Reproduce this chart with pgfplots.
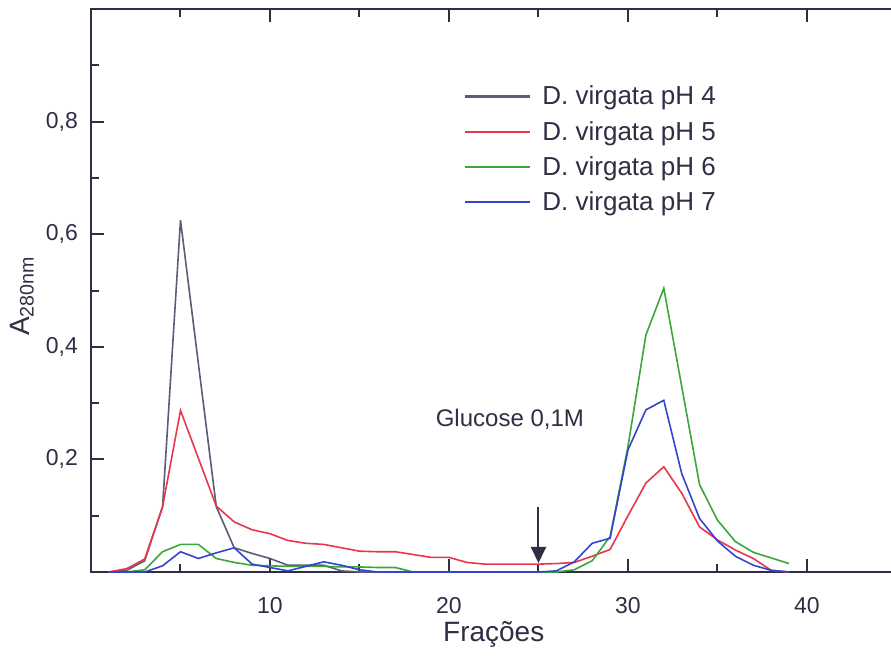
\documentclass[border=0pt]{standalone}
\usepackage{pgfplots}
\pgfplotsset{compat=1.18}
\usepackage{fontspec}
\setmainfont{Liberation Sans}
\usetikzlibrary{arrows.meta}
\definecolor{axc}{HTML}{2E2E44}
\definecolor{c4}{HTML}{5C5C78}
\definecolor{c5}{HTML}{E8364E}
\definecolor{c6}{HTML}{3BA73B}
\definecolor{c7}{HTML}{3444CC}
\begin{document}
\begin{tikzpicture}
\begin{axis}[name=ax, scale only axis, width=402.75pt, height=281.5pt,
  xmin=0, xmax=45, ymin=0, ymax=1,
  axis line style={axc, line width=1pt},
  xtick={10,20,30,40}, minor xtick={5,15,25,35,45},
  ytick={0.2,0.4,0.6,0.8}, minor ytick={0.1,0.3,0.5,0.7,0.9},
  xtick pos=both, ytick pos=left,
  tick style={axc, line width=1pt}, major tick length=6.5pt, minor tick length=4pt,
  tick align=inside,
  /pgf/number format/assume math mode=true,
  /pgf/number format/fixed,
  /pgf/number format/precision=1,
  /pgf/number format/use comma,
  ticklabel style={font=\fontsize{11.5}{13}\selectfont, text=axc},
  xticklabel style={yshift=-9pt},
  yticklabel style={xshift=-3pt},
  xlabel={Frações},
  xlabel style={at={(axis description cs:0.5,0)}, anchor=center, yshift=-31pt, font=\fontsize{14}{16}\selectfont, text=axc},
  ylabel={A\textsubscript{280nm}},
  ylabel style={at={(axis description cs:-0.0857,0.49)}, anchor=center, font=\fontsize{14}{16}\selectfont, text=axc},
  legend style={at={(axis description cs:0.4545,0.878)}, anchor=north west, draw=none, fill=none,
    font=\fontsize{13}{15}\selectfont, text=axc, row sep=2.7pt},
  legend cell align=left,
  legend image code/.code={\draw[#1, line width=1.15pt] (0pt,0.2pt) -- (32.5pt,0.2pt); \path (36.5pt,0pt);},
  every axis plot/.append style={line width=0.8pt},
]
\addplot[c4] coordinates {(1,0) (2,0.003) (3,0.02) (4,0.116) (5,0.625) (6,0.37) (7,0.116) (8,0.043) (9,0.033) (10,0.024) (11,0.012) (12,0.012) (13,0.012) (14,0.002) (15,0) (16,0)};
\addlegendentry{D. virgata pH 4}
\addplot[c5] coordinates {(1,0) (2,0.006) (3,0.023) (4,0.116) (5,0.287) (6,0.202) (7,0.117) (8,0.089) (9,0.075) (10,0.068) (11,0.056) (12,0.051) (13,0.049) (14,0.043) (15,0.037) (16,0.036) (17,0.036) (18,0.031) (19,0.026) (20,0.026) (21,0.017) (22,0.014) (23,0.014) (24,0.014) (25,0.014) (26,0.015) (27,0.017) (28,0.028) (29,0.04) (30,0.10) (31,0.158) (32,0.187) (33,0.14) (34,0.08) (35,0.057) (36,0.039) (37,0.024) (38,0.003) (39,0)};
\addlegendentry{D. virgata pH 5}
\addplot[c6] coordinates {(1,0) (2,0) (3,0.004) (4,0.036) (5,0.049) (6,0.049) (7,0.024) (8,0.017) (9,0.012) (10,0.011) (11,0.01) (12,0.01) (13,0.01) (14,0.009) (15,0.009) (16,0.008) (17,0.008) (18,0) (19,0) (20,0) (21,0) (22,0) (23,0) (24,0) (25,0) (26,0) (27,0.004) (28,0.02) (29,0.063) (30,0.223) (31,0.421) (32,0.504) (33,0.33) (34,0.155) (35,0.092) (36,0.054) (37,0.035) (38,0.025) (39,0.015)};
\addlegendentry{D. virgata pH 6}
\addplot[c7] coordinates {(1,0) (2,0) (3,0) (4,0.011) (5,0.036) (6,0.024) (7,0.034) (8,0.043) (9,0.014) (10,0.008) (11,0.002) (12,0.01) (13,0.018) (14,0.012) (15,0.004) (16,0) (17,0) (18,0) (19,0) (20,0) (21,0) (22,0) (23,0) (24,0) (25,0) (26,0.002) (27,0.018) (28,0.051) (29,0.06) (30,0.217) (31,0.288) (32,0.305) (33,0.175) (34,0.095) (35,0.055) (36,0.028) (37,0.012) (38,0.003) (39,0)};
\addlegendentry{D. virgata pH 7}
\node[font=\fontsize{12}{14}\selectfont, text=axc] at (axis cs:23.4,0.272) {Glucose 0,1M};
\draw[axc, line width=1pt, -{Triangle[width=7.5pt,length=8pt]}] (axis cs:25,0.116) -- (axis cs:25,0.016);
\end{axis}
\pgfresetboundingbox
\path[use as bounding box] (ax.south west) ++(-45.5pt,-41.5pt) rectangle ++(445.5pt,327.5pt);
\end{tikzpicture}
\end{document}
